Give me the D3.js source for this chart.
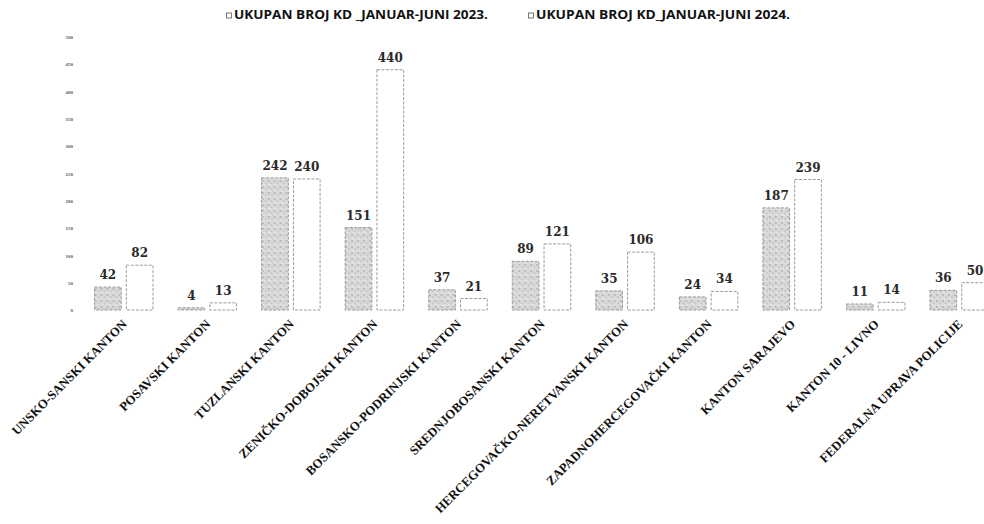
<!DOCTYPE html>
<html>
<head>
<meta charset="utf-8">
<script src="https://cdn.jsdelivr.net/npm/d3@7"></script>
<style>
  body { margin: 0; background: #fff; }
  svg { display: block; }
</style>
</head>
<body>
<svg id="chart"></svg>
<script>
// data
var categories = ["UNSKO-SANSKI KANTON", "POSAVSKI KANTON", "TUZLANSKI KANTON", "ZENIČKO-DOBOJSKI KANTON",
  "BOSANSKO-PODRINJSKI KANTON", "SREDNJOBOSANSKI KANTON", "HERCEGOVAČKO-NERETVANSKI KANTON",
  "ZAPADNOHERCEGOVAČKI KANTON", "KANTON SARAJEVO", "KANTON 10 - LIVNO", "FEDERALNA UPRAVA POLICIJE"];
var seriesNames = ["UKUPAN BROJ KD _JANUAR-JUNI 2023.", "UKUPAN BROJ  KD_JANUAR-JUNI 2024."];
var values2023 = [42, 4, 242, 151, 37, 89, 35, 24, 187, 11, 36];
var values2024 = [82, 13, 240, 440, 21, 121, 106, 34, 239, 14, 50];
var yTicks = [0, 50, 100, 150, 200, 250, 300, 350, 400, 450, 500];

var width = 984, height = 524;
var svg = d3.select("#chart").attr("width", width).attr("height", height);

// stipple pattern for the 2023 bars
var defs = svg.append("defs");
var pat = defs.append("pattern")
  .attr("id", "stipple")
  .attr("width", 6).attr("height", 6)
  .attr("patternUnits", "userSpaceOnUse");
pat.append("rect").attr("width", 6).attr("height", 6).attr("fill", "#d9d9d9");
pat.append("circle").attr("cx", 1).attr("cy", 1).attr("r", 0.9).attr("fill", "#acacac");
pat.append("circle").attr("cx", 4).attr("cy", 3).attr("r", 0.8).attr("fill", "#bababa");
pat.append("circle").attr("cx", 2).attr("cy", 5).attr("r", 0.7).attr("fill", "#f4f4f4");

var rows = categories.map(function (c, i) {
  return { cat: c, vals: [values2023[i], values2024[i]] };
});

var x0 = d3.scaleBand()
  .domain(categories)
  .range([82, 1001])
  .paddingInner(0.3)
  .paddingOuter(0.15);

var x1 = d3.scaleBand()
  .domain([0, 1])
  .range([0, x0.bandwidth()])
  .paddingInner(0.16);

var y = d3.scaleLinear()
  .domain([0, 500])
  .range([310, 37]);

// y axis (labels only)
var yAxis = d3.axisLeft(y).tickValues(yTicks).tickSize(0).tickPadding(0);
var gy = svg.append("g")
  .attr("transform", "translate(73,0)")
  .call(yAxis);
gy.select(".domain").remove();
gy.selectAll("text")
  .attr("font-family", "Liberation Serif")
  .attr("font-size", 5)
  .attr("font-weight", "bold")
  .attr("fill", "#555");

// bars
var groups = svg.selectAll(".grp")
  .data(rows)
  .enter()
  .append("g")
  .attr("class", "grp")
  .attr("transform", function (d) { return "translate(" + x0(d.cat) + ",0)"; });

groups.selectAll("rect")
  .data(function (d) { return d.vals.map(function (v, k) { return { k: k, v: v }; }); })
  .enter()
  .append("rect")
  .attr("x", function (d) { return x1(d.k); })
  .attr("y", function (d) { return y(d.v); })
  .attr("width", x1.bandwidth())
  .attr("height", function (d) { return y(0) - y(d.v); })
  .attr("fill", function (d) { return d.k === 0 ? "url(#stipple)" : "#fff"; })
  .attr("stroke", "#9a9a9a")
  .attr("stroke-width", 1)
  .attr("stroke-dasharray", "3,1.5");

groups.selectAll(".val")
  .data(function (d) { return d.vals.map(function (v, k) { return { k: k, v: v }; }); })
  .enter()
  .append("text")
  .attr("class", "val")
  .attr("x", function (d) { return x1(d.k) + x1.bandwidth() / 2; })
  .attr("y", function (d) { return y(d.v) - 8; })
  .attr("text-anchor", "middle")
  .attr("font-family", "DejaVu Serif")
  .attr("font-weight", "bold")
  .attr("font-size", 12)
  .attr("fill", "#2a2a2a")
  .text(function (d) { return d.v; });

// category labels
svg.selectAll(".cat")
  .data(categories)
  .enter()
  .append("text")
  .attr("class", "cat")
  .attr("text-anchor", "end")
  .attr("font-family", "Liberation Serif")
  .attr("font-weight", "bold")
  .attr("font-size", 12.8)
  .attr("fill", "#111")
  .attr("transform", function (d) {
    return "translate(" + (x0(d) + x0.bandwidth() / 2 + 4) + ",325) rotate(-45)";
  })
  .text(function (d) { return d; });

// legend
var legendX = [226, 528];
var leg = svg.selectAll(".leg")
  .data(seriesNames)
  .enter()
  .append("g")
  .attr("class", "leg")
  .attr("transform", function (d, i) { return "translate(" + legendX[i] + ",19)"; });
leg.append("rect")
  .attr("x", 0.5).attr("y", -6)
  .attr("width", 5).attr("height", 5)
  .attr("fill", "#fff")
  .attr("stroke", "#555")
  .attr("stroke-width", 0.8);
leg.append("text")
  .attr("x", 8)
  .attr("y", 0)
  .attr("font-family", "Open Sans")
  .attr("font-weight", "bold")
  .attr("font-size", 12)
  .attr("fill", "#111")
  .attr("textLength", 254)
  .attr("lengthAdjust", "spacingAndGlyphs")
  .text(function (d) { return d; });
</script>
</body>
</html>
